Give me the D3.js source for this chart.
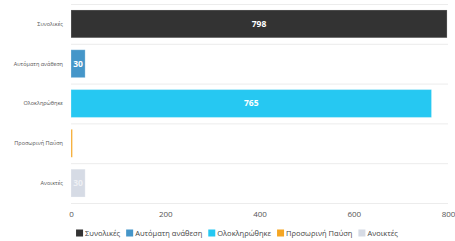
<!DOCTYPE html>
<html><head><meta charset="utf-8">
<script src="https://cdn.jsdelivr.net/npm/d3@7"></script>
<style>
html,body{margin:0;padding:0;background:#fff;}
svg{display:block;font-family:"Open Sans","Noto Sans",sans-serif;}
</style></head>
<body><svg id="c" width="455" height="241"></svg>
<script>
const categories = ["Συνολικές","Αυτόματη ανάθεση","Ολοκληρώθηκε","Προσωρινή Παύση","Ανοικτές"];
const values = [798, 30, 765, 3, 30];
const colors = ["#333333","#4596c9","#26c8f2","#f5a623","#d6dbe5"];
const labelColors = ["#ffffff","#ffffff","#ffffff","#ffffff","#eef0f4"];
const xTicks = [0,200,400,600,800];

const svg = d3.select("#c");
const m = {left:71, right:7, top:4, bottom:38};
const W = 455, H = 241;
const x = d3.scaleLinear().domain([0,800]).range([m.left, W-m.right]);
const y = d3.scaleBand().domain(categories).range([m.top, H-m.bottom]).paddingInner(0.3).paddingOuter(0.15);

// horizontal grid lines at band boundaries
const step = y.step();
const bounds = d3.range(categories.length+1).map(i => m.top + i*(H-m.top-m.bottom)/categories.length);
svg.append("g").selectAll("line").data(bounds).join("line")
  .attr("x1", m.left).attr("x2", W-m.right)
  .attr("y1", d=>d+0.5).attr("y2", d=>d+0.5)
  .attr("stroke","#ececec").attr("stroke-width",1);

// bars
svg.append("g").selectAll("rect").data(categories).join("rect")
  .attr("x", x(0))
  .attr("y", d=>y(d))
  .attr("width", (d,i)=>Math.max(0, x(values[i])-x(0)))
  .attr("height", y.bandwidth())
  .attr("fill", (d,i)=>colors[i])
  .attr("stroke", "rgba(255,255,255,0.25)").attr("stroke-width",1);

// value labels
svg.append("g").selectAll("text").data(categories.filter((d,i)=>values[i]>=10)).join("text")
  .attr("x", d=>{const i=categories.indexOf(d); return (x(0)+x(values[i]))/2;})
  .attr("y", d=>y(d)+y.bandwidth()/2)
  .attr("dy","0.35em").attr("text-anchor","middle")
  .attr("font-size","8.5px").attr("font-weight","bold")
  .attr("fill", d=>labelColors[categories.indexOf(d)])
  .text(d=>values[categories.indexOf(d)]);

// category labels
svg.append("g").selectAll("text").data(categories).join("text")
  .attr("x", m.left-8).attr("y", d=>y(d)+y.bandwidth()/2)
  .attr("dy","0.35em").attr("text-anchor","end")
  .attr("font-size","5.5px").attr("fill","#555")
  .text(d=>d);

// x axis
const xAxis = d3.axisBottom(x).tickValues(xTicks).tickSize(0).tickPadding(8);
const gx = svg.append("g").attr("transform",`translate(0,${H-m.bottom})`).call(xAxis);
gx.select(".domain").remove();
gx.selectAll("text").attr("font-size","8px").attr("fill","#555").attr("font-family","\"Open Sans\",\"Noto Sans\",sans-serif");

// legend
const lg = svg.append("g").attr("transform","translate(0,233)");
let xpos = 0;
const items = [];
categories.forEach((c,i)=>{
  const g = lg.append("g");
  g.append("rect").attr("x",0).attr("y",-3.5).attr("width",7).attr("height",7).attr("fill",colors[i]);
  const t = g.append("text").attr("x",9).attr("y",0).attr("dy","0.35em").attr("font-size","7.5px").attr("fill","#444").text(c);
  const w = 9 + t.node().getComputedTextLength();
  items.push({g,w});
});
const gap = 6;
const total = d3.sum(items, d=>d.w) + gap*(items.length-1);
let cx = 237 - total/2;
items.forEach(it=>{ it.g.attr("transform",`translate(${cx},0)`); cx += it.w + gap; });
</script></body></html>
